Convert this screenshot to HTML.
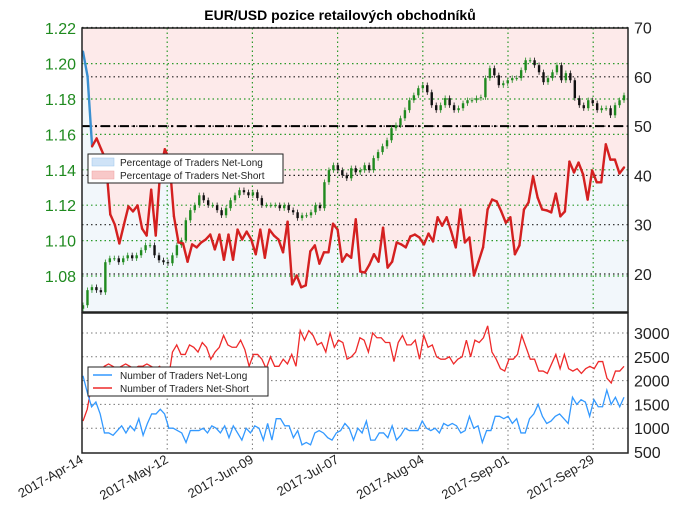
<!DOCTYPE html>
<html><head><meta charset="utf-8"><style>
html,body{margin:0;padding:0;background:#fff;}
svg{display:block;font-family:"Liberation Sans","DejaVu Sans",sans-serif;}
</style></head><body>
<svg id="chart" width="680" height="519" viewBox="0 0 680 519"></svg>
<script>
const dateLabels=["2017-Apr-14","2017-May-12","2017-Jun-09","2017-Jul-07","2017-Aug-04","2017-Sep-01","2017-Sep-29"];
const priceTicks=[1.08,1.10,1.12,1.14,1.16,1.18,1.20,1.22];
const pctTicks=[20,30,40,50,60,70];
const countTicks=[500,1000,1500,2000,2500,3000];
const pctNetLong=[65.1,60.1,45.9,47.5,45.3,43.2,32.1,30.0,26.2,30.0,33.7,32.7,33.9,29.2,27.8,37.1,27.8,41.2,45.3,43.2,31.7,26.4,26.2,22.5,26.0,25.4,26.4,27.0,28.0,25.0,28.0,22.9,28.0,22.9,29.0,27.0,28.6,27.0,24.0,29.0,23.3,29.0,27.8,27.0,24.4,30.6,17.9,19.7,17.3,17.7,24.6,25.8,22.1,24.4,24.4,30.2,29.0,22.5,24.0,23.3,31.1,20.5,20.3,21.9,24.0,22.5,29.4,21.3,22.5,26.4,26.0,25.4,27.6,28.0,27.4,26.0,28.2,26.6,31.5,29.8,31.5,28.6,25.4,33.1,26.4,27.4,19.7,22.5,25.4,33.1,35.1,34.7,32.7,30.4,31.5,24.0,25.8,33.1,34.5,39.8,35.5,33.1,32.9,32.5,36.3,31.7,32.7,42.8,40.6,42.6,40.2,35.1,41.0,38.6,38.6,46.3,43.2,43.2,40.4,41.6];
const closes=[1.0635,1.0720,1.0737,1.0720,1.0708,1.0878,1.0900,1.0900,1.0878,1.0900,1.0917,1.0900,1.0917,1.0946,1.0974,1.0974,1.0917,1.0889,1.0878,1.0872,1.0917,1.0974,1.1002,1.1115,1.1172,1.1200,1.1256,1.1228,1.1200,1.1200,1.1172,1.1143,1.1183,1.1228,1.1256,1.1285,1.1273,1.1256,1.1273,1.1240,1.1200,1.1200,1.1200,1.1200,1.1183,1.1200,1.1172,1.1160,1.1127,1.1143,1.1143,1.1160,1.1200,1.1183,1.1330,1.1398,1.1426,1.1398,1.1369,1.1352,1.1409,1.1386,1.1398,1.1426,1.1398,1.1466,1.1500,1.1533,1.1567,1.1635,1.1652,1.1691,1.1737,1.1793,1.1821,1.1861,1.1878,1.1838,1.1765,1.1737,1.1765,1.1805,1.1765,1.1737,1.1748,1.1776,1.1793,1.1793,1.1805,1.1810,1.1918,1.1974,1.1934,1.1878,1.1889,1.1906,1.1918,1.1918,1.1963,1.2019,1.2019,1.1991,1.1951,1.1895,1.1918,1.1951,1.1991,1.1906,1.1946,1.1906,1.1805,1.1765,1.1748,1.1793,1.1776,1.1737,1.1748,1.1748,1.1708,1.1765,1.1793,1.1821];
const netShort=[1150,1400,1900,2100,2200,2300,2350,2300,2250,2300,2350,2300,2250,2300,2300,2350,2300,2250,2300,2100,2000,2600,2750,2550,2550,2750,2700,2600,2800,2700,2450,2600,2700,2950,2750,2700,2700,2850,2650,2300,2550,2550,2450,2250,2500,2300,2300,2450,2350,2550,2300,3050,2850,3050,2950,2750,2800,2600,3000,2700,2850,2800,2450,2500,2600,2900,2850,2600,3000,2900,2900,2800,2800,2400,2800,2950,2750,2750,2850,2450,2950,2700,2750,2500,2450,2450,2500,2350,2450,2500,2850,2500,2850,2800,2900,3150,2600,2450,2250,2200,2450,2450,2550,2950,2700,2450,2450,2200,2200,2150,2350,2550,2250,2550,2250,2200,2250,2150,2250,2300,2250,2400,2400,2050,1950,2200,2200,2300];
const netLong=[2100,1750,1450,1550,1300,900,900,850,950,1050,900,1050,950,1200,850,1100,1300,1300,1400,1300,1000,1000,950,900,700,950,950,950,1000,900,1050,1000,900,1050,800,1050,900,750,1000,900,1050,1000,750,1100,750,1200,1200,1050,1050,800,950,650,700,650,900,950,900,800,750,900,950,1100,1000,750,1000,900,1150,750,750,900,900,800,1050,750,850,1000,950,950,950,1150,1000,950,1000,900,1100,1050,1100,1050,900,950,1250,1000,1050,700,950,950,1250,1250,1200,1250,1100,1200,900,900,1200,1300,1500,1250,1100,1150,1250,1300,1200,1100,1650,1500,1600,1550,1250,1600,1450,1450,1800,1500,1650,1450,1650];

const L=82,R=628,T1=28,B1=312,T2=313,B2=453;
const xDate=i=>L+i*85.2;
const xIdx=(i,n)=>L+1+i*(R-L-5)/(n-1);
const yPrice=p=>276-(p-1.08)/0.02*35.4;
const yPct=v=>274-(v-20)*4.93;
const yCnt=v=>452-(v-500)*0.0476;
const svg=document.getElementById('chart');
const NS='http://www.w3.org/2000/svg';
function mk(tag,attrs,parent){const e=document.createElementNS(NS,tag);for(const k in attrs)e.setAttribute(k,attrs[k]);(parent||svg).appendChild(e);return e;}

// top panel background
const bg=mk('rect',{x:L,y:T1,width:R-L,height:B1-T1,fill:'#f2f7fb'});


let n=pctNetLong.length;
let d=`M${L},${T1} `;
pctNetLong.forEach((v,i)=>{d+=`L${xIdx(i,n)},${yPct(v)} `;});
d+=`L${R},${yPct(pctNetLong[n-1])} L${R},${T1} Z`;
const pf=mk('path',{d:d,fill:'#fdeaea'});



// grids top
pctTicks.forEach(v=>{const g=mk('line',{x1:L,x2:R,y1:yPct(v),y2:yPct(v),stroke:'#222','stroke-width':1.2,'stroke-dasharray':'1.5,3'});

});
priceTicks.forEach(v=>{const g=mk('line',{x1:L,x2:R,y1:yPrice(v),y2:yPrice(v),stroke:'#2a9a2a','stroke-width':1.2,'stroke-dasharray':'1.5,3'});

});
dateLabels.forEach((s,i)=>{if(i==0)return;const g=mk('line',{x1:xDate(i),x2:xDate(i),y1:T1,y2:B1,stroke:'#2a9a2a','stroke-width':1.2,'stroke-dasharray':'1.5,3'});

});
const ref=mk('line',{x1:L,x2:R,y1:yPct(50),y2:yPct(50),stroke:'#000','stroke-width':2,'stroke-dasharray':'9,4,2,4'});



// candles
const nc=closes.length;
closes.forEach((c,i)=>{const o=i?closes[i-1]:c-0.002;const x=xIdx(i,nc);const up=c>=o;const col=up?'#1f8a1f':'#111';
const hi=Math.max(o,c)+0.0015, lo=Math.min(o,c)-0.0015;
const w=mk('line',{x1:x,x2:x,y1:yPrice(hi),y2:yPrice(lo),stroke:col,'stroke-width':0.8});


const b=mk('rect',{x:x-1.2,y:yPrice(Math.max(o,c)),width:2.4,height:Math.max(1,yPrice(Math.min(o,c))-yPrice(Math.max(o,c))),fill:col});

});

// pct line, colored by side
for(let i=1;i<n;i++){const a=pctNetLong[i-1],b=pctNetLong[i];const col=(a>50||b>50)?'#3a8fd0':'#d42020';
const s=mk('line',{x1:xIdx(i-1,n),y1:yPct(a),x2:xIdx(i,n),y2:yPct(b),stroke:col,'stroke-width':2.4,'stroke-linecap':'round'});

}

// top frame
const f1=mk('rect',{x:L,y:T1,width:R-L,height:B1-T1,fill:'none',stroke:'#222','stroke-width':1.5});



// bottom panel
countTicks.forEach(v=>{if(v==500)return;const g=mk('line',{x1:L,x2:R,y1:yCnt(v),y2:yCnt(v),stroke:'#777','stroke-width':1,'stroke-dasharray':'1.5,3'});

});
dateLabels.forEach((s,i)=>{if(i==0)return;const g=mk('line',{x1:xDate(i),x2:xDate(i),y1:T2,y2:B2,stroke:'#777','stroke-width':1,'stroke-dasharray':'1.5,3'});

});
function poly(arr,col,name){const m=arr.length;const p=mk('polyline',{points:arr.map((v,i)=>xIdx(i,m)+','+yCnt(v)).join(' '),fill:'none',stroke:col,'stroke-width':1.3});

}
poly(netShort,'#ee2a2a','net-short-count-line');
poly(netLong,'#3399ff','net-long-count-line');
const f2=mk('rect',{x:L,y:T2,width:R-L,height:B2-T2,fill:'none',stroke:'#222','stroke-width':1.5});



// tick labels
priceTicks.forEach(v=>{const t=mk('text',{x:76,y:yPrice(v)+6,'text-anchor':'end','font-size':16,fill:'#1f8a1f'});t.textContent=v.toFixed(2);

});
pctTicks.forEach(v=>{const t=mk('text',{x:634,y:yPct(v)+6,'font-size':16,fill:'#222'});t.textContent=v;

});
countTicks.forEach(v=>{const t=mk('text',{x:634,y:yCnt(v)+6,'font-size':16,fill:'#222'});t.textContent=v;

});
dateLabels.forEach((s,i)=>{const x=xDate(i);const t=mk('text',{x:x+2,y:462,'text-anchor':'end','font-size':13,fill:'#222',transform:`rotate(-30 ${x+2} 462)`});t.textContent=s;

});

// title
const ti=mk('text',{x:340,y:20,'text-anchor':'middle','font-size':14,'font-weight':'bold',fill:'#000'});ti.textContent='EUR/USD pozice retailových obchodníků';



// legends
function legend(x,y,w,items,name,patch){const g=mk('g',{});

mk('rect',{x:x,y:y,width:w,height:29,fill:'#fff',stroke:'#222','stroke-width':1},g);
items.forEach((it,k)=>{const yy=y+8+k*13;
if(patch)mk('rect',{x:x+4,y:yy-4,width:22,height:8,fill:it[1],stroke:it[2],'stroke-width':0.5},g);
else mk('line',{x1:x+5,x2:x+24,y1:yy,y2:yy,stroke:it[1],'stroke-width':1.5},g);
const t=mk('text',{x:x+32,y:yy+4,'font-size':10,fill:'#222'},g);t.textContent=it[0];});}
legend(88,154,195,[['Percentage of Traders Net-Long','#cfe3f7','#9cc4ea'],['Percentage of Traders Net-Short','#f8c8c8','#f0a0a0']],'pct-legend',true);
legend(88,367,180,[['Number of Traders Net-Long','#3399ff'],['Number of Traders Net-Short','#ee2a2a']],'count-legend',false);
</script>
</body></html>
